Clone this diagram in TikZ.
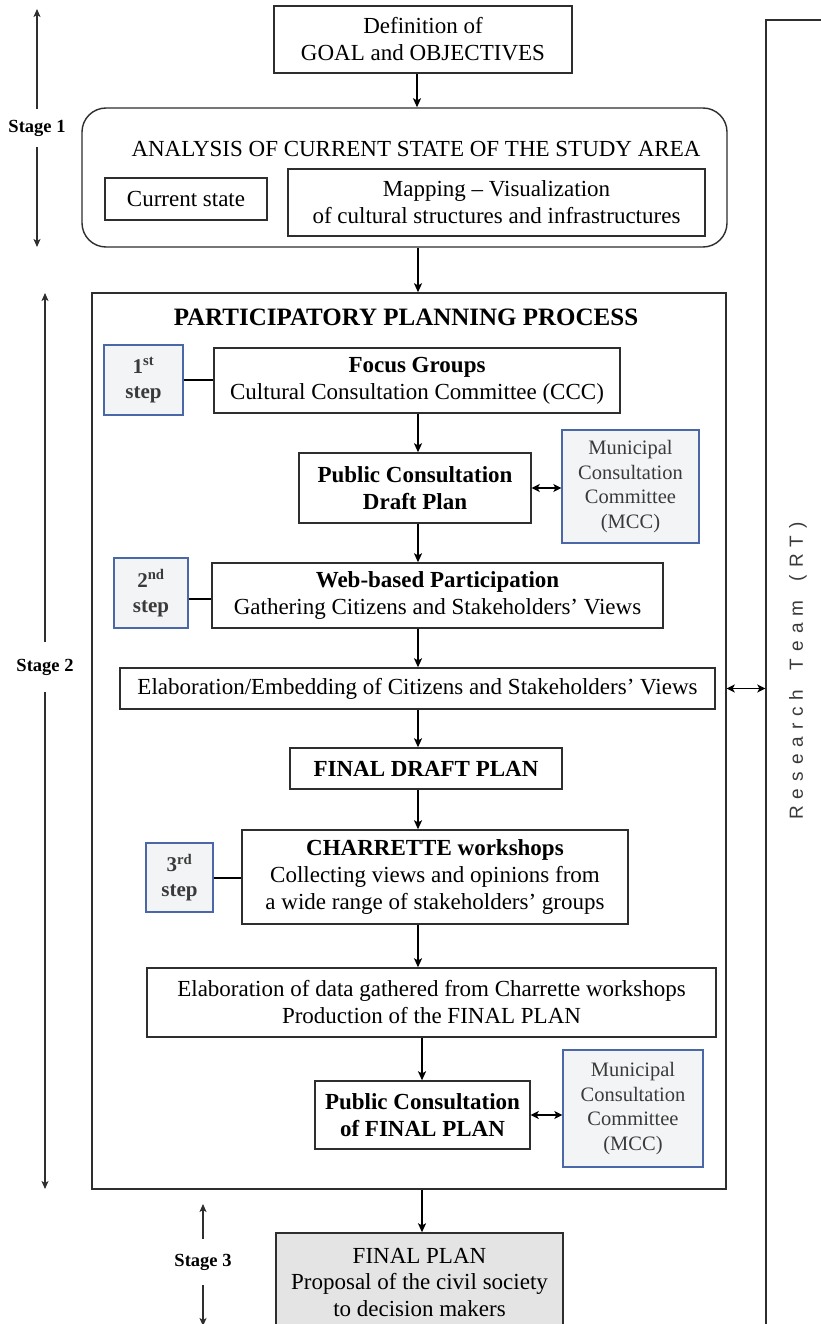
\documentclass[tikz,border=0pt]{standalone}
\usepackage{fontspec}
\setmainfont{Liberation Serif}
\setsansfont{Liberation Sans}
\usetikzlibrary{arrows.meta,calc}
\definecolor{edge}{HTML}{2E2E2E}
\definecolor{stepblue}{HTML}{4A67A8}
\definecolor{stepfill}{HTML}{F3F4F6}
\definecolor{finalfill}{HTML}{E4E4E4}
\definecolor{softtext}{HTML}{3A3A3A}
\newcommand\rtg{\kern7pt}
\begin{document}
\begin{tikzpicture}[x=1pt,y=-1pt,
  box/.style={draw=edge, line width=1.4pt, align=center, inner sep=0pt,
    font=\fontsize{23}{27}\selectfont},
  bbox/.style={box, font=\fontsize{23}{27}\selectfont\bfseries},
  stepbox/.style={draw=stepblue, fill=stepfill, line width=1.3pt, align=center, inner sep=0pt,
    text=softtext, font=\fontsize{21}{25}\selectfont\bfseries},
  mccbox/.style={draw=stepblue, fill=stepfill, line width=1.3pt, align=center, inner sep=0pt,
    text=softtext, font=\fontsize{20.5}{24.5}\selectfont},
  arr/.style={-{Stealth[length=9pt,width=8pt,inset=2pt]}, line width=1.4pt, draw=black},
  darr/.style={{Stealth[length=8pt,width=8pt,inset=2pt]}-{Stealth[length=8pt,width=8pt,inset=2pt]}, line width=1.4pt},
  sarr/.style={-{Stealth[length=8pt,width=7pt,inset=2pt]}, line width=1.2pt, draw=edge},
  conn/.style={line width=2pt, draw=black},
  stagelbl/.style={font=\fontsize{18.5}{20}\selectfont\bfseries, inner xsep=0pt}
]
\clip (0,0) rectangle (821,1324);
\fill[white] (0,0) rectangle (821,1324);

% Research team column
\node[draw=edge, line width=1.4pt, minimum width=74pt, minimum height=1340pt, inner sep=0pt] (rt) at (803,690) {};
\node[rotate=90, font=\sffamily\fontsize{19}{21}\selectfont, text=softtext] (rtl) at (798,671)
  {R\rtg e\rtg s\rtg e\rtg a\rtg r\rtg c\rtg h\rtg\ \rtg T\rtg e\rtg a\rtg m\rtg\ \rtg (\rtg R\rtg T\rtg )};

\coordinate (axA) at (417,0);
\coordinate (axB) at (418,0);
\coordinate (axC) at (422,0);

% Stage 1
\node[box, minimum width=298pt, minimum height=67pt] (def) at (423,39.5) {Definition of\\GOAL and OBJECTIVES};
\node[draw=edge, line width=1.4pt, rounded corners=24pt, minimum width=645pt, minimum height=139pt, inner sep=0pt] (ana) at (404.5,177.5) {};
\node[font=\fontsize{23}{27}\selectfont, inner sep=0pt] (anat) at (416,149) {ANALYSIS OF CURRENT STATE OF THE STUDY AREA};
\node[box, minimum width=162pt, minimum height=42pt] (cur) at (186,199) {Current state};
\node[box, minimum width=417pt, minimum height=67pt] (map) at (496.5,202.5) {Mapping -- Visualization\\of cultural structures and infrastructures};

% Stage 2
\node[draw=edge, line width=1.4pt, minimum width=634pt, minimum height=896pt, inner sep=0pt] (ppp) at (409,741) {};
\node[font=\fontsize{25}{28}\selectfont\bfseries, inner sep=0pt] (pppt) at (406,317) {PARTICIPATORY PLANNING PROCESS};

\node[stepbox, minimum width=79pt, minimum height=70pt] (s1) at (143.5,380) {1\textsuperscript{st}\\step};
\node[box, minimum width=406pt, minimum height=65pt] (focus) at (417,380.5) {\textbf{Focus Groups}\\Cultural Consultation Committee (CCC)};
\node[bbox, minimum width=232pt, minimum height=70pt] (pcd) at (415,488) {Public Consultation\\Draft Plan};
\node[mccbox, minimum width=137pt, minimum height=113pt] (mcc1) at (630.5,486.5) {Municipal\\Consultation\\Committee\\(MCC)};
\node[stepbox, minimum width=74pt, minimum height=70pt] (s2) at (151,593) {2\textsuperscript{nd}\\step};
\node[box, minimum width=451pt, minimum height=65pt] (web) at (437.5,595.5) {\textbf{Web-based Participation}\\Gathering Citizens and Stakeholders’ Views};
\node[box, minimum width=595pt, minimum height=41pt] (elab1) at (417.5,688.5) {Elaboration/Embedding of Citizens and Stakeholders’ Views};
\node[bbox, minimum width=272pt, minimum height=41pt] (fdp) at (426,768.5) {FINAL DRAFT PLAN};
\node[stepbox, minimum width=67pt, minimum height=69pt] (s3) at (179.5,877.5) {3\textsuperscript{rd}\\step};
\node[box, minimum width=386pt, minimum height=94pt] (cha) at (435,877) {\textbf{CHARRETTE workshops}\\Collecting views and opinions from\\a wide range of stakeholders’ groups};
\node[box, minimum width=569pt, minimum height=69pt] (elab2) at (431.5,1002.5) {Elaboration of data gathered from Charrette workshops\\Production of the FINAL PLAN};
\node[bbox, minimum width=215pt, minimum height=68pt] (pcf) at (422.5,1115) {Public Consultation\\of FINAL PLAN};
\node[mccbox, minimum width=140pt, minimum height=117pt] (mcc2) at (633,1108.5) {Municipal\\Consultation\\Committee\\(MCC)};

% Stage 3
\node[box, fill=finalfill, minimum width=287pt, minimum height=99pt, font=\fontsize{23}{26.5}\selectfont] (final) at (419.5,1282.5) {FINAL PLAN\\Proposal of the civil society\\to decision makers};

% connectors
\draw[arr] (def.south -| axA) -- (ana.north -| axA);
\draw[arr] (ana.south -| axB) -- (ppp.north -| axB);
\draw[conn] (s1.east) -- (s1.east -| focus.west);
\draw[arr] (focus.south -| axB) -- (pcd.north -| axB);
\draw[darr] (pcd.east) -- (pcd.east -| mcc1.west);
\draw[arr] (pcd.south -| axB) -- (web.north -| axB);
\draw[conn] ($(s2.east)+(0,6)$) -- ($(s2.east -| web.west)+(0,6)$);
\draw[arr] (web.south -| axB) -- (elab1.north -| axB);
\draw[darr] (ppp.east |- elab1) -- (rt.west |- elab1);
\draw[arr] (elab1.south -| axB) -- (fdp.north -| axB);
\draw[arr] (fdp.south -| axB) -- (cha.north -| axB);
\draw[conn] (s3.east) -- (s3.east -| cha.west);
\draw[arr] (cha.south -| axB) -- (elab2.north -| axB);
\draw[arr] (elab2.south -| axC) -- (pcf.north -| axC);
\draw[darr] (pcf.east) -- (pcf.east -| mcc2.west);
\draw[arr] (ppp.south -| axC) -- (final.north -| axC);

% stage markers
\node[stagelbl, inner ysep=11pt] (st1) at (37,128) {Stage 1};
\coordinate (st1t) at (37,9);
\coordinate (st1b) at (37,247);
\draw[sarr] (st1) -- (st1t);
\draw[sarr] (st1) -- (st1b);

\node[stagelbl, inner ysep=17pt] (st2) at (45,667) {Stage 2};
\coordinate (st2t) at (45,293);
\coordinate (st2b) at (45,1189);
\draw[sarr] (st2) -- (st2t);
\draw[sarr] (st2) -- (st2b);

\node[stagelbl, inner ysep=15pt] (st3) at (203,1262) {Stage 3};
\coordinate (st3t) at (203,1204);
\coordinate (st3b) at (203,1326);
\draw[sarr] (st3) -- (st3t);
\draw[sarr] (st3) -- (st3b);
\end{tikzpicture}
\end{document}
